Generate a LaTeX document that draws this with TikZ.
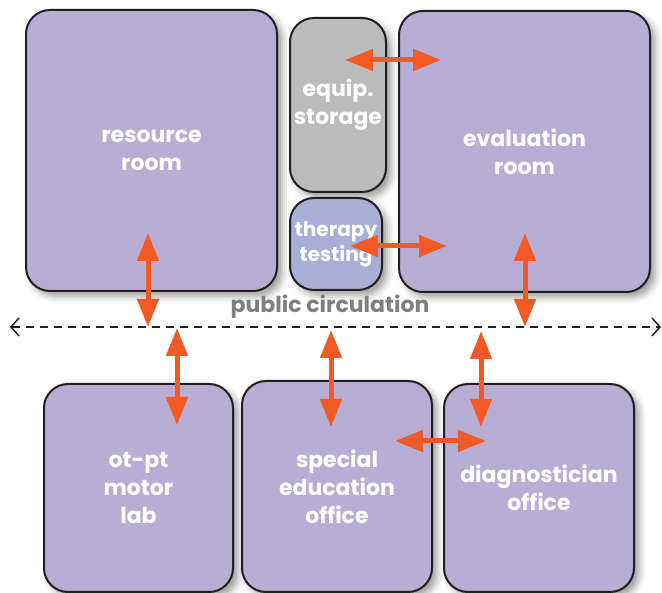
\documentclass[tikz,border=0pt]{standalone}
\usepackage{fontspec}
\setmainfont{Poppins}
\usetikzlibrary{arrows.meta, shadows.blur}
\definecolor{roomfill}{HTML}{B8AED3}
\definecolor{storefill}{HTML}{BBBBBB}
\definecolor{testfill}{HTML}{A9AED6}
\definecolor{link}{HTML}{F15A24}
\definecolor{edge}{HTML}{231F20}
\definecolor{circ}{HTML}{7F7F7F}

\begin{document}
\begin{tikzpicture}[
    x=1pt, y=-1pt,
    room/.style={draw=edge, line width=2pt, rounded corners=24pt, fill=#1, text=white, align=center,
        font=\bfseries\fontsize{22}{28}\selectfont, inner sep=0pt,
        blur shadow={shadow xshift=5pt, shadow yshift=-5pt, shadow blur radius=7pt, shadow opacity=40}},
    dbl/.style={{Triangle[length=28pt, width=21pt]}-{Triangle[length=28pt, width=21pt]}, line width=5pt, link},
    walk/.style={{Straight Barb[length=8pt, width=18pt]}-{Straight Barb[length=8pt, width=18pt]}, line width=1.5pt, edge, dash pattern=on 8pt off 6pt},
]
\useasboundingbox (0,0) rectangle (662,593);

% Upper rooms
\node[room=roomfill, minimum width=251pt, minimum height=281pt] (res) at (151.5, 150.5) {resource\\room};
\node[room=storefill, minimum width=96pt, minimum height=174pt] (equip) at (338, 105) {equip.\\storage};
\node[room=testfill, minimum width=92pt, minimum height=92pt, font=\bfseries\fontsize{20}{25}\selectfont] (ther) at (336, 244) {therapy\\testing};
\node[room=roomfill, minimum width=251pt, minimum height=281pt] (eval) at (524.5, 151.5) {evaluation\\room};

% Lower rooms
\node[room=roomfill, minimum width=189pt, minimum height=208pt] (otpt) at (138.5, 488) {ot-pt\\motor\\lab};
\node[room=roomfill, minimum width=190pt, minimum height=211pt] (sped) at (337, 486.5) {special\\education\\office};
\node[room=roomfill, minimum width=190pt, minimum height=208pt] (diag) at (539, 488) {diagnostician\\office};

% Public circulation
\coordinate (circL) at (10, 327);
\coordinate (circR) at (661, 327);
\draw[walk] (circL) -- (circR);
\node[font=\bfseries\fontsize{22}{24}\selectfont, text=circ] (circlab) at (330, 307) {public circulation};

% Connections
\coordinate (resA) at (148, 233);  \coordinate (resB) at (148, 327);
\coordinate (otA) at (177, 328);   \coordinate (otB) at (177, 425);
\coordinate (spA) at (331, 330);   \coordinate (spB) at (331, 427);
\coordinate (diA) at (481, 331);   \coordinate (diB) at (481, 427);
\coordinate (evA) at (525, 233);   \coordinate (evB) at (525, 327);
\coordinate (eqA) at (345, 60);    \coordinate (eqB) at (441, 60);
\coordinate (thA) at (350, 246);   \coordinate (thB) at (447, 246);
\coordinate (sdA) at (395, 441);   \coordinate (sdB) at (486, 441);

\draw[dbl] (resA) -- (resB);
\draw[dbl] (otA) -- (otB);
\draw[dbl] (spA) -- (spB);
\draw[dbl] (diA) -- (diB);
\draw[dbl] (evA) -- (evB);
\draw[dbl] (eqA) -- (eqB);
\draw[dbl] (thA) -- (thB);
\draw[dbl] (sdA) -- (sdB);

\end{tikzpicture}
\end{document}
